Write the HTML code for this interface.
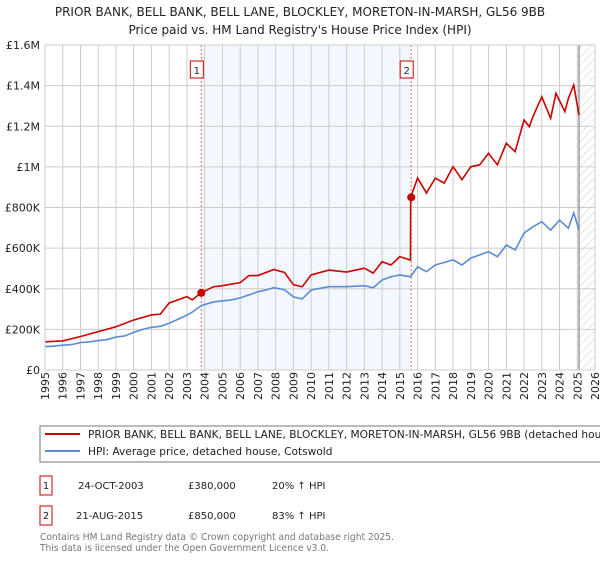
<!DOCTYPE html>
<html><head><meta charset="utf-8"><style>
body{margin:0;background:#fff;font-family:"DejaVu Sans","Liberation Sans",sans-serif;}
svg text{font-family:"DejaVu Sans","Liberation Sans",sans-serif;}
</style></head><body>
<svg id="chart" width="600" height="560" xmlns="http://www.w3.org/2000/svg">
<defs><pattern id="hatch" width="6" height="6" patternUnits="userSpaceOnUse" patternTransform="rotate(45)"><line x1="0" y1="0" x2="0" y2="6" stroke="#ccc" stroke-width="1"/></pattern></defs>
<text x="300" y="16" text-anchor="middle" font-size="12" fill="#222">PRIOR BANK, BELL BANK, BELL LANE, BLOCKLEY, MORETON-IN-MARSH, GL56 9BB</text>
<text x="300" y="34" text-anchor="middle" font-size="12" fill="#222">Price paid vs. HM Land Registry's House Price Index (HPI)</text>
<g id="plot"></g>
<rect x="40" y="426" width="600" height="36" fill="#fff" stroke="#777"/>
<line x1="45" y1="434" x2="80" y2="434" stroke="#cc0000" stroke-width="2"/>
<text x="88" y="438" font-size="10.6" fill="#222">PRIOR BANK, BELL BANK, BELL LANE, BLOCKLEY, MORETON-IN-MARSH, GL56 9BB (detached house)</text>
<line x1="45" y1="451" x2="80" y2="451" stroke="#5b8bd0" stroke-width="2"/>
<text x="88" y="455" font-size="10.6" fill="#222">HPI: Average price, detached house, Cotswold</text>
<g font-size="10" fill="#222">
<rect x="40" y="476" width="12" height="19" fill="none" stroke="#cc0000"/>
<text x="46" y="489" text-anchor="middle">1</text>
<text x="78" y="489">24-OCT-2003</text>
<text x="188" y="489">£380,000</text>
<text x="272" y="489">20% ↑ HPI</text>
<rect x="40" y="506" width="12" height="19" fill="none" stroke="#cc0000"/>
<text x="46" y="519" text-anchor="middle">2</text>
<text x="76" y="519">21-AUG-2015</text>
<text x="188" y="519">£850,000</text>
<text x="272" y="519">83% ↑ HPI</text>
</g>
<text x="40" y="540" font-size="10" fill="#777" textLength="354" lengthAdjust="spacingAndGlyphs">Contains HM Land Registry data © Crown copyright and database right 2025.</text>
<text x="40" y="551" font-size="10" fill="#777" textLength="289" lengthAdjust="spacingAndGlyphs">This data is licensed under the Open Government Licence v3.0.</text>
</svg>
<script>
const hpiYears=[1995,1995.5,1996,1996.5,1997,1997.5,1998,1998.5,1999,1999.5,2000,2000.5,2001,2001.5,2002,2002.5,2003,2003.3,2003.8,2004.5,2005,2005.5,2006,2006.5,2007,2007.5,2007.9,2008.5,2009,2009.5,2010,2011,2012,2013,2013.5,2014,2014.5,2015,2015.6,2016,2016.5,2017,2018,2018.5,2019,2020,2020.5,2021,2021.5,2022,2022.5,2023,2023.5,2024,2024.5,2024.8,2025.1];
const hpiValues=[115,118,122,125,135,138,145,150,162,168,185,200,210,215,230,250,270,285,317,335,340,345,355,370,385,395,405,395,360,350,394,410,410,415,405,443,459,468,459,508,484,517,542,517,551,582,558,615,591,674,705,730,689,738,698,773,689];
const priceYears=[1995,1996,1997,1998,1999,2000,2001,2001.5,2002,2003,2003.3,2003.8,2004.5,2005,2006,2006.5,2007,2007.9,2008.5,2009,2009.5,2010,2011,2012,2013,2013.5,2014,2014.5,2015,2015.6,2015.61,2016,2016.5,2017,2017.5,2018,2018.5,2019,2019.5,2020,2020.5,2021,2021.5,2022,2022.3,2022.5,2023,2023.5,2023.8,2024.3,2024.5,2024.8,2025.1];
const priceValues=[139,143,165,189,213,246,271,275,330,361,345,380,410,415,430,465,465,495,480,420,410,468,492,482,501,477,533,517,558,541,850,945,871,945,920,1001,937,1001,1010,1067,1010,1116,1075,1231,1198,1247,1345,1239,1362,1272,1337,1403,1255];
const sales=[[2003.81,380],[2015.64,850]];
const yTicks=[0,200,400,600,800,1000,1200,1400,1600];
const yTickLabels=["£0","£200K","£400K","£600K","£800K","£1M","£1.2M","£1.4M","£1.6M"];
const xTicks=[];for(let y=1995;y<=2026;y++)xTicks.push(y);

const L=45,R=595,T=45,B=370;
const xs=v=>L+(v-1995)/(2026-1995)*(R-L);
const ys=v=>B-v/1600*(B-T);
const NS="http://www.w3.org/2000/svg";
const g=document.getElementById('plot');
function mk(t,a){const e=document.createElementNS(NS,t);for(const k in a)e.setAttribute(k,a[k]);g.appendChild(e);return e;}
let e;
e=mk('rect',{x:xs(sales[0][0]),y:T,width:xs(sales[1][0])-xs(sales[0][0]),height:B-T,fill:'#eef3fd',opacity:0.7});


e=mk('rect',{x:xs(2025.1),y:T,width:R-xs(2025.1),height:B-T,fill:'url(#hatch)'});


xTicks.forEach(y=>{
 e=mk('line',{x1:xs(y),x2:xs(y),y1:T,y2:B,stroke:'#ccc','stroke-width':1});
 
 
 e=mk('text',{x:0,y:0,transform:`translate(${xs(y)+4},${B+30}) rotate(-90)`,'font-size':11,fill:'#222'});
 e.textContent=y;
 
 
});
yTicks.forEach((v,i)=>{
 e=mk('line',{x1:L,x2:R,y1:ys(v),y2:ys(v),stroke:'#ccc','stroke-width':1});
 
 
 e=mk('text',{x:L-5,y:ys(v)+4,'text-anchor':'end','font-size':11,fill:'#222'});
 e.textContent=yTickLabels[i];
 
 
});
e=mk('line',{x1:xs(2025.1),x2:xs(2025.1),y1:T,y2:B,stroke:'#999','stroke-width':1.5});


sales.forEach((s,i)=>{
 e=mk('line',{x1:xs(s[0]),x2:xs(s[0]),y1:T,y2:B,stroke:'#e06666','stroke-width':1,'stroke-dasharray':'2,2'});
 
 
 e=mk('rect',{x:xs(s[0])-11,y:61,width:13,height:17,fill:'#fff',stroke:'#cc0000'});
 
 
 e=mk('text',{x:xs(s[0])-4.5,y:74,'text-anchor':'middle','font-size':10,fill:'#222'});
 e.textContent=String(i+1);
 
 
});
e=mk('polyline',{points:hpiYears.map((y,i)=>xs(y)+','+ys(hpiValues[i])).join(' '),fill:'none',stroke:'#5b8bd0','stroke-width':1.6});


e=mk('polyline',{points:priceYears.map((y,i)=>xs(y)+','+ys(priceValues[i])).join(' '),fill:'none',stroke:'#cc0000','stroke-width':1.6});


sales.forEach((s,i)=>{
 e=mk('circle',{cx:xs(s[0]),cy:ys(s[1]),r:4,fill:'#cc0000'});
 
 
});
e=mk('rect',{x:L,y:T,width:R-L,height:B-T,fill:'none',stroke:'#ccc'});


</script>
</body></html>
